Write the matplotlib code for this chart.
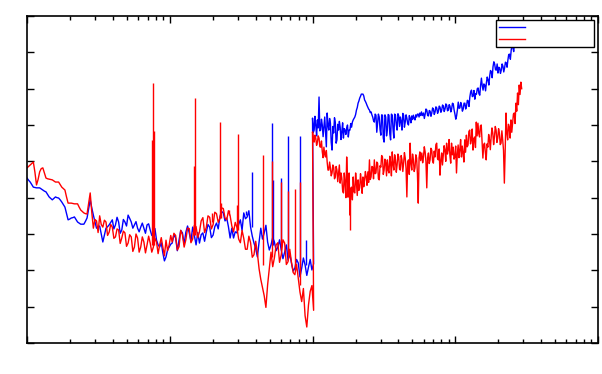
import numpy as np
import matplotlib
matplotlib.use("Agg")
import matplotlib.pyplot as plt

# each trace is read at two levels per sample (main reading, and the other edge of the noise)
# lower band, x from 1 to ~100 -- first part (1 to ~10) and second part (~10 to 100)
blue_low_a = [45.4, 44.3, 42.9, 42.7, 42.7, 42.1, 41.6, 40.2, 39.4, 40.2, 39.9, 38.8, 37.4, 33.9, 34.4, 34.7,
              33.3, 32.7, 32.7, 34.4, 39.4, 35.2, 31.6, 32.2, 27.8, 31.6, 32.5, 33.9, 32.5, 33.3, 31.1, 33.3,
              35.2, 33.3, 32.5, 31.6, 31.9, 31.6, 32.5, 31.1, 30.3, 28.3, 26.4, 24.8, 23.7, 26.4]
blue_low_a_alt = [44.8, 43.6, 42.8, 42.7, 42.4, 41.8, 40.9, 39.8, 39.8, 40.0, 39.4, 38.1, 35.6, 34.1, 34.5, 34.0,
                  33.0, 32.7, 33.5, 36.9, 37.2, 33.4, 31.9, 30.0, 29.7, 32.0, 33.2, 31.4, 34.6, 30.2, 34.0, 32.2,
                  34.3, 31.6, 33.4, 30.6, 33.0, 30.2, 32.8, 29.6, 31.5, 27.0, 27.6, 22.6, 25.6, 27.2]
blue_low_b = [27.5, 28.9, 28.3, 30.3, 30.5, 30.3, 31.9, 27.0, 27.5, 30.3, 30.5, 31.9, 29.7, 33.0, 34.7, 35.8,
              34.4, 28.9, 28.9, 30.3, 33.9, 35.8, 34.7, 31.9, 27.5, 23.7, 31.6, 30.3, 27.8, 27.0, 27.8, 26.4,
              25.6, 25.0, 22.8, 22.0, 20.6, 22.0, 20.6, 21.5, 20.9, 20.1]
blue_low_b_alt = [29.8, 25.4, 31.0, 27.2, 32.2, 28.0, 29.6, 30.4, 29.8, 28.0, 32.6, 29.0, 32.0, 31.4, 36.2, 33.6,
                  32.0, 31.6, 30.6, 32.6, 31.0, 34.2, 36.4, 29.4, 26.0, 27.8, 28.6, 32.4, 25.6, 29.0, 25.4, 28.4,
                  23.2, 27.0, 24.6, 19.8, 23.0, 18.2, 23.4, 18.6, 23.0, 21.8]
red_low_a = [48.2, 49.0, 49.8, 43.5, 47.1, 48.2, 45.4, 45.1, 44.9, 44.3, 44.3, 42.9, 42.1, 38.5, 38.5, 38.3,
             38.3, 36.6, 35.8, 35.5, 41.3, 31.6, 33.6, 35.0, 31.9, 33.3, 30.5, 31.9, 29.2, 31.1, 28.9, 30.3,
             27.5, 29.2, 26.4, 28.9, 26.4, 27.8, 27.0, 27.5, 26.4, 27.8, 27.0, 26.4, 28.3, 27.0]
red_low_a_alt = [48.6, 49.4, 47.0, 45.0, 48.0, 46.8, 45.2, 45.0, 44.6, 44.3, 43.6, 42.5, 40.2, 38.5, 38.4, 38.3,
                 37.4, 36.2, 35.6, 38.4, 36.0, 34.0, 30.4, 32.6, 33.8, 29.6, 32.6, 28.8, 31.4, 27.4, 30.8, 26.6,
                 29.8, 25.2, 30.0, 25.0, 29.2, 24.8, 29.4, 25.0, 28.8, 24.6, 29.0, 24.0, 25.4, 29.6]
red_low_b = [27.8, 29.6, 26.5, 29.8, 28.4, 31.5, 28.6, 32.0, 30.6, 34.5, 31.8, 34.6, 32.6, 35.6, 34.3, 37.0,
             33.9, 35.0, 30.6, 31.8, 27.6, 28.8, 25.8, 27.6, 24.3, 24.7, 17.5, 13.0, 16.0, 25.0, 23.5, 27.6,
             24.3, 27.5, 22.4, 22.2, 18.8, 17.8, 11.4, 7.5, 10.5, 15.8]
red_low_b_alt = [30.2, 25.6, 31.0, 26.4, 31.6, 27.6, 32.4, 29.0, 33.6, 30.4, 35.0, 31.4, 36.0, 33.2, 37.2, 34.4,
                 36.4, 32.2, 33.2, 28.6, 31.0, 25.8, 29.4, 23.6, 28.0, 20.4, 15.2, 9.8, 20.6, 21.0, 27.0, 22.2,
                 28.4, 21.6, 25.8, 19.4, 21.6, 14.0, 15.0, 4.4, 14.2, 9.0]

# upper band, blue
blue_high_a = [61.9, 58.6, 60.0, 61.4, 67.7, 58.6, 60.0, 59.4, 58.1, 63.3, 58.6, 60.5, 53.1, 57.8, 60.8, 55.9,
               58.6, 59.4, 58.1, 56.4, 58.6, 59.2, 56.7, 58.6, 59.4, 61.4, 62.2, 64.1, 66.0, 67.4, 68.5, 68.5,
               66.9, 66.0, 64.9, 64.1, 63.6, 62.2, 60.8, 62.7, 60.5, 62.2, 57.2, 62.7, 55.3, 62.2, 58.6, 62.7,
               55.9, 62.7, 56.4, 62.7, 58.6, 62.5, 62.2, 58.6, 62.7, 60.8, 61.9, 60.0, 61.9, 62.5, 62.7, 61.4,
               62.2, 63.0, 63.3, 63.6]
blue_high_a_alt = [58.0, 62.4, 57.0, 59.2, 58.4, 61.6, 56.8, 62.2, 54.0, 60.0, 61.8, 55.2, 59.6, 62.0, 55.0, 60.2,
                   61.0, 56.0, 60.6, 59.0, 57.4, 60.0, 58.6, 60.4, 60.8, 61.8, 62.9, 64.8, 66.6, 67.9, 68.5, 68.0,
                   66.5, 65.4, 64.4, 63.4, 62.8, 61.2, 63.0, 58.0, 63.0, 58.8, 62.8, 56.4, 62.8, 57.0, 62.9, 57.6,
                   63.0, 58.8, 63.0, 60.0, 63.1, 59.6, 61.0, 63.2, 59.4, 62.8, 60.4, 62.6, 60.6, 61.5, 61.8, 62.8,
                   63.0, 62.2, 62.6, 62.6]
blue_high_b = [63.3, 63.0, 64.1, 62.5, 63.8, 63.3, 64.4, 63.6, 64.7, 63.8, 64.9, 64.1, 65.2, 64.4, 65.5, 64.1,
               65.2, 64.4, 65.8, 63.0, 62.5, 66.3, 64.7, 65.5, 64.4, 66.0, 65.2, 66.6, 67.7, 69.6, 68.0, 67.1,
               68.5, 70.2, 68.2, 72.9, 69.6, 71.0, 71.6, 72.4, 73.5, 74.6, 76.0, 76.8, 75.1, 74.3, 75.7, 75.1,
               76.2, 75.7, 77.1, 77.9, 79.5, 80.6, 81.5, 82.6]
blue_high_b_alt = [61.8, 64.4, 62.6, 64.0, 62.4, 64.7, 62.9, 65.0, 63.2, 65.2, 63.5, 65.5, 63.7, 65.8, 63.9, 65.6,
                   63.6, 66.0, 64.1, 61.6, 64.2, 64.6, 66.2, 63.8, 66.0, 64.4, 66.8, 65.1, 69.1, 67.8, 69.5, 68.6,
                   70.0, 68.6, 70.9, 70.8, 71.3, 69.4, 73.2, 71.0, 75.0, 73.0, 77.4, 75.2, 76.8, 75.9, 74.2, 76.8,
                   74.6, 77.3, 75.9, 79.4, 78.1, 81.9, 80.2, 83.8]
# upper band, red
red_high_a = [58.1, 55.3, 56.4, 55.3, 56.4, 53.9, 52.6, 53.9, 51.2, 49.8, 47.6, 48.2, 46.8, 48.4, 45.7, 47.6,
              46.8, 44.0, 45.4, 41.3, 44.0, 51.2, 40.2, 35.2, 42.9, 45.7, 41.3, 44.0, 44.9, 42.7, 44.3, 45.7,
              44.9, 45.7, 47.1, 50.4, 45.7, 48.4, 50.4, 46.8, 49.5, 44.9, 48.4, 51.2, 47.6, 49.5, 50.4, 46.8,
              49.5, 52.6, 47.6, 50.4, 49.0, 51.2, 47.6, 50.4, 49.5, 50.9, 40.2, 50.4, 55.0, 47.6, 50.4, 48.2,
              50.9, 38.5, 52.6]
red_high_a_alt = [56.0, 57.2, 54.4, 57.0, 54.0, 55.6, 51.0, 51.8, 53.0, 47.6, 49.8, 46.0, 49.0, 45.2, 48.6, 44.4,
                  49.0, 46.8, 42.0, 46.8, 40.0, 45.0, 46.8, 42.0, 39.4, 41.6, 46.8, 40.6, 42.0, 46.6, 41.2, 43.0,
                  47.2, 43.4, 44.2, 45.0, 48.6, 45.2, 46.6, 49.8, 45.2, 48.8, 51.6, 46.4, 50.6, 46.0, 47.6, 51.4,
                  46.0, 49.2, 51.8, 47.0, 52.0, 47.8, 51.6, 47.2, 52.4, 48.0, 49.8, 46.4, 49.4, 52.0, 47.2, 51.8,
                  46.4, 51.0, 50.2]
red_high_b = [52.3, 51.2, 52.6, 42.7, 52.3, 50.4, 53.1, 49.5, 51.2, 55.0, 50.4, 46.2, 52.3, 51.5, 53.1, 55.0,
              53.1, 51.7, 55.0, 53.9, 51.2, 46.8, 54.5, 53.1, 51.2, 52.3, 55.9, 57.2, 54.5, 58.6, 55.9, 53.1,
              56.7, 60.8, 60.5, 56.7, 60.0, 50.9, 55.0, 50.4, 53.9, 55.9, 56.7, 57.8, 56.7, 58.6, 56.4, 57.8,
              55.0, 55.9, 44.0, 63.3, 55.9, 59.4, 61.4, 60.5, 63.3, 66.0, 68.8, 71.0, 71.8]
red_high_b_alt = [49.6, 54.0, 49.9, 51.0, 49.4, 53.6, 50.2, 52.8, 54.6, 50.8, 53.4, 50.1, 49.0, 54.3, 50.0, 52.0,
                  56.0, 49.5, 51.8, 50.6, 54.2, 52.0, 51.0, 56.0, 54.2, 49.8, 52.5, 54.0, 58.2, 54.8, 58.9, 56.2,
                  53.8, 57.0, 57.6, 59.8, 55.4, 54.6, 52.4, 54.8, 57.4, 53.2, 59.2, 54.6, 59.6, 55.2, 59.0, 54.6,
                  58.4, 53.0, 52.8, 57.8, 60.2, 56.4, 58.0, 63.0, 60.4, 63.8, 65.6, 68.4, 70.0]

# narrow spikes: position, bottom, top
red_spike_x = [7.45, 7.57, 7.70, 14.87, 15.11, 19.86, 22.59, 22.96, 26.1, 29.68, 30.16, 45.07, 52.08,
               60.19, 67.34, 75.4, 81.7, 173.8, 182.4]
red_spike_lo = [27.0, 27.0, 27.0, 29.7, 29.7, 33.3, 34.4, 34.4, 35.2, 31.1, 31.1, 21.5, 23.7,
                25.6, 23.7, 20.1, 16.0, 40.2, 31.1]
red_spike_hi = [55.9, 71.6, 58.3, 48.7, 67.4, 35.8, 60.8, 38.5, 36.6, 38.0, 57.5, 51.7, 50.1,
                44.3, 41.8, 42.4, 44.3, 46.0, 42.9]
blue_spike_x = [7.57, 34.3, 37.77, 52.08, 52.92, 60.19, 67.34, 81.7, 89.95]
blue_spike_lo = [31.6, 35.2, 31.9, 27.0, 27.0, 26.4, 24.2, 21.5, 21.5]
blue_spike_hi = [55.3, 36.3, 47.1, 60.5, 44.9, 45.4, 57.0, 57.0, 28.3]


def weave(x0, x1, y, alt):
    # sample grid from x0 to x1, with the second reading half a step after each sample
    x = np.geomspace(x0, x1, len(y))
    r = np.sqrt(x[1] / x[0])
    xx = np.empty(2 * len(x))
    yy = np.empty(2 * len(x))
    xx[0::2], xx[1::2] = x, x * r
    yy[0::2], yy[1::2] = y, alt
    return xx, yy


segs_b = [weave(1.0, 9.9, blue_low_a, blue_low_a_alt), weave(10.4, 99.0, blue_low_b, blue_low_b_alt),
          weave(100, 580, blue_high_a, blue_high_a_alt), weave(599, 2600, blue_high_b, blue_high_b_alt)]
segs_r = [weave(1.0, 9.9, red_low_a, red_low_a_alt), weave(10.4, 99.0, red_low_b, red_low_b_alt),
          weave(100, 565, red_high_a, red_high_a_alt), weave(583, 2880, red_high_b, red_high_b_alt)]
xb = np.concatenate([s[0] for s in segs_b])
yb = np.concatenate([s[1] for s in segs_b])
xr = np.concatenate([s[0] for s in segs_r])
yr = np.concatenate([s[1] for s in segs_r])

fig = plt.figure(figsize=(6.02, 3.74), dpi=100)
ax = fig.add_axes([0.0449, 0.0829, 0.9485, 0.8743])

hb, = ax.plot(xb, yb, color='#0000ff', lw=1.0)
ax.vlines(blue_spike_x, blue_spike_lo, blue_spike_hi, color='#0000ff', lw=1.0)
hr, = ax.plot(xr, yr, color='#ff0000', lw=1.0)
ax.vlines(red_spike_x, red_spike_lo, red_spike_hi, color='#ff0000', lw=1.0)

ax.set_xscale('log')
ax.set_xlim(1, 1e4)
ax.set_ylim(0, 90)
ax.set_yticks(np.arange(0, 91, 10))
ax.tick_params(which='both', direction='in', top=True, right=True,
               labelbottom=False, labelleft=False, width=1.0)
ax.tick_params(which='major', length=5)
ax.tick_params(which='minor', length=3)
for s in ax.spines.values():
    s.set_linewidth(1.2)

leg = ax.legend([hb, hr], ['', ''], loc='upper left',
                bbox_to_anchor=(0.821, 0.914, 0.172, 0.074), mode='expand',
                fancybox=False, edgecolor='black', framealpha=1, fontsize=6,
                handlelength=3.2, borderaxespad=0, borderpad=0.35, labelspacing=0.35)
leg.get_frame().set_linewidth(1.0)

fig.savefig('out.png', dpi=100)
